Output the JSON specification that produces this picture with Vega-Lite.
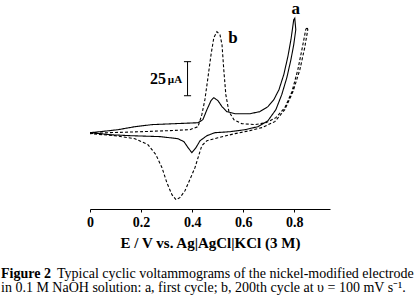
{
  "$schema": "https://vega.github.io/schema/vega-lite/v6.json",
  "autosize": {"type": "none"},
  "width": 240,
  "height": 199,
  "padding": {"left": 90, "top": 10, "right": 85, "bottom": 90},
  "background": "white",
  "config": {
    "view": {"stroke": null},
    "font": "Liberation Serif"
  },
  "title": {
    "text": "Figure 2",
    "subtitle": [
      "\u200b\u2003\u2003\u2003\u2003Typical cyclic voltammograms of the nickel-modified electrode",
      "in 0.1 M NaOH solution: a, first cycle; b, 200th cycle at \u03c5 = 100 mV s\u207b\u00b9."
    ],
    "orient": "bottom",
    "anchor": "start",
    "frame": "group",
    "dx": -89,
    "offset": 17,
    "font": "Liberation Serif",
    "fontSize": 14,
    "fontWeight": "bold",
    "color": "black",
    "subtitleFont": "Liberation Serif",
    "subtitleFontSize": 14,
    "subtitleColor": "black",
    "subtitleLineHeight": 14,
    "subtitlePadding": -14
  },
  "datasets": {
    "cv": [
      {"series": "a", "order": 0, "E": 0, "I": 0},
      {"series": "a", "order": 1, "E": 0.039, "I": 0.7},
      {"series": "a", "order": 2, "E": 0.110, "I": 2.2},
      {"series": "a", "order": 3, "E": 0.176, "I": 4.4},
      {"series": "a", "order": 4, "E": 0.243, "I": 5.9},
      {"series": "a", "order": 5, "E": 0.333, "I": 6.6},
      {"series": "a", "order": 6, "E": 0.423, "I": 7.3},
      {"series": "a", "order": 7, "E": 0.442, "I": 9.5},
      {"series": "a", "order": 8, "E": 0.458, "I": 16.9},
      {"series": "a", "order": 9, "E": 0.474, "I": 23.5},
      {"series": "a", "order": 10, "E": 0.485, "I": 25.7},
      {"series": "a", "order": 11, "E": 0.501, "I": 23.5},
      {"series": "a", "order": 12, "E": 0.517, "I": 19.1},
      {"series": "a", "order": 13, "E": 0.536, "I": 15.4},
      {"series": "a", "order": 14, "E": 0.568, "I": 13.9},
      {"series": "a", "order": 15, "E": 0.626, "I": 13.9},
      {"series": "a", "order": 16, "E": 0.665, "I": 15.4},
      {"series": "a", "order": 17, "E": 0.697, "I": 19.1},
      {"series": "a", "order": 18, "E": 0.720, "I": 24.2},
      {"series": "a", "order": 19, "E": 0.740, "I": 31.5},
      {"series": "a", "order": 20, "E": 0.759, "I": 42.6},
      {"series": "a", "order": 21, "E": 0.775, "I": 55.8},
      {"series": "a", "order": 22, "E": 0.787, "I": 68.2},
      {"series": "a", "order": 23, "E": 0.798, "I": 82.9},
      {"series": "a", "order": 24, "E": 0.802, "I": 84.0},
      {"series": "a", "order": 25, "E": 0.806, "I": 75.6},
      {"series": "a", "order": 26, "E": 0.798, "I": 64.6},
      {"series": "a", "order": 27, "E": 0.787, "I": 53.6},
      {"series": "a", "order": 28, "E": 0.771, "I": 40.4},
      {"series": "a", "order": 29, "E": 0.751, "I": 27.9},
      {"series": "a", "order": 30, "E": 0.728, "I": 16.9},
      {"series": "a", "order": 31, "E": 0.697, "I": 8.8},
      {"series": "a", "order": 32, "E": 0.658, "I": 4.4},
      {"series": "a", "order": 33, "E": 0.607, "I": 2.2},
      {"series": "a", "order": 34, "E": 0.548, "I": 0.7},
      {"series": "a", "order": 35, "E": 0.489, "I": 0},
      {"series": "a", "order": 36, "E": 0.458, "I": -2.2},
      {"series": "a", "order": 37, "E": 0.431, "I": -5.9},
      {"series": "a", "order": 38, "E": 0.415, "I": -11.0},
      {"series": "a", "order": 39, "E": 0.399, "I": -14.7},
      {"series": "a", "order": 40, "E": 0.384, "I": -11.0},
      {"series": "a", "order": 41, "E": 0.368, "I": -6.6},
      {"series": "a", "order": 42, "E": 0.344, "I": -4.4},
      {"series": "a", "order": 43, "E": 0.274, "I": -2.9},
      {"series": "a", "order": 44, "E": 0.157, "I": -2.2},
      {"series": "a", "order": 45, "E": 0.078, "I": -1.5},
      {"series": "a", "order": 46, "E": 0, "I": 0},
      {"series": "b", "order": 0, "E": 0, "I": -0.7},
      {"series": "b", "order": 1, "E": 0.078, "I": 0},
      {"series": "b", "order": 2, "E": 0.196, "I": 0.7},
      {"series": "b", "order": 3, "E": 0.313, "I": 1.5},
      {"series": "b", "order": 4, "E": 0.391, "I": 2.2},
      {"series": "b", "order": 5, "E": 0.423, "I": 4.4},
      {"series": "b", "order": 6, "E": 0.438, "I": 13.2},
      {"series": "b", "order": 7, "E": 0.450, "I": 24.2},
      {"series": "b", "order": 8, "E": 0.462, "I": 40.4},
      {"series": "b", "order": 9, "E": 0.474, "I": 57.2},
      {"series": "b", "order": 10, "E": 0.485, "I": 69.7},
      {"series": "b", "order": 11, "E": 0.497, "I": 74.1},
      {"series": "b", "order": 12, "E": 0.509, "I": 71.9},
      {"series": "b", "order": 13, "E": 0.517, "I": 64.6},
      {"series": "b", "order": 14, "E": 0.524, "I": 46.2},
      {"series": "b", "order": 15, "E": 0.532, "I": 27.9},
      {"series": "b", "order": 16, "E": 0.544, "I": 15.4},
      {"series": "b", "order": 17, "E": 0.564, "I": 9.5},
      {"series": "b", "order": 18, "E": 0.595, "I": 6.6},
      {"series": "b", "order": 19, "E": 0.646, "I": 5.9},
      {"series": "b", "order": 20, "E": 0.689, "I": 7.3},
      {"series": "b", "order": 21, "E": 0.728, "I": 11.0},
      {"series": "b", "order": 22, "E": 0.763, "I": 18.3},
      {"series": "b", "order": 23, "E": 0.791, "I": 30.1},
      {"series": "b", "order": 24, "E": 0.814, "I": 46.2},
      {"series": "b", "order": 25, "E": 0.830, "I": 60.9},
      {"series": "b", "order": 26, "E": 0.845, "I": 75.6},
      {"series": "b", "order": 27, "E": 0.850, "I": 77.5},
      {"series": "b", "order": 28, "E": 0.853, "I": 75.6},
      {"series": "b", "order": 29, "E": 0.841, "I": 62.4},
      {"series": "b", "order": 30, "E": 0.822, "I": 46.2},
      {"series": "b", "order": 31, "E": 0.795, "I": 30.1},
      {"series": "b", "order": 32, "E": 0.763, "I": 16.9},
      {"series": "b", "order": 33, "E": 0.724, "I": 8.1},
      {"series": "b", "order": 34, "E": 0.673, "I": 3.7},
      {"series": "b", "order": 35, "E": 0.626, "I": 1.5},
      {"series": "b", "order": 36, "E": 0.568, "I": -0.7},
      {"series": "b", "order": 37, "E": 0.501, "I": -3.7},
      {"series": "b", "order": 38, "E": 0.458, "I": -5.9},
      {"series": "b", "order": 39, "E": 0.438, "I": -9.5},
      {"series": "b", "order": 40, "E": 0.427, "I": -16.1},
      {"series": "b", "order": 41, "E": 0.411, "I": -25.7},
      {"series": "b", "order": 42, "E": 0.391, "I": -34.5},
      {"series": "b", "order": 43, "E": 0.372, "I": -42.6},
      {"series": "b", "order": 44, "E": 0.352, "I": -47.7},
      {"series": "b", "order": 45, "E": 0.337, "I": -49.2},
      {"series": "b", "order": 46, "E": 0.321, "I": -45.5},
      {"series": "b", "order": 47, "E": 0.301, "I": -36.7},
      {"series": "b", "order": 48, "E": 0.282, "I": -25.7},
      {"series": "b", "order": 49, "E": 0.258, "I": -16.1},
      {"series": "b", "order": 50, "E": 0.227, "I": -8.8},
      {"series": "b", "order": 51, "E": 0.176, "I": -4.4},
      {"series": "b", "order": 52, "E": 0.098, "I": -2.2},
      {"series": "b", "order": 53, "E": 0, "I": -0.7}
    ],
    "labels": [
      {"label": "a", "E": 0.806, "I": 90.5},
      {"label": "b", "E": 0.560, "I": 69.7}
    ],
    "bar": [
      {"E": 0.382, "I1": 27.1, "I2": 52.1}
    ],
    "caps": [
      {"E1": 0.368, "E2": 0.396, "I": 27.1},
      {"E1": 0.368, "E2": 0.396, "I": 52.1}
    ],
    "big": [{"t": "25", "E": 0.298, "I": 39.5}],
    "small": [{"t": "\u00b5A", "E": 0.361, "I": 39.0}]
  },
  "layer": [
    {
      "data": {"name": "cv"},
      "mark": {"type": "line", "strokeWidth": 1.1, "color": "black"},
      "encoding": {
        "x": {
          "field": "E", "type": "quantitative",
          "scale": {"domain": [0, 0.94], "nice": false, "zero": false},
          "axis": {
            "title": "E / V vs. Ag|AgCl|KCl (3 M)",
            "titleFont": "Liberation Serif",
            "titleFontSize": 15,
            "titleFontWeight": "bold",
            "titleColor": "black",
            "titlePadding": 6,
            "values": [0, 0.05, 0.1, 0.15, 0.2, 0.25, 0.3, 0.35, 0.4, 0.45, 0.5, 0.55, 0.6, 0.65, 0.7, 0.75, 0.8, 0.85, 0.9],
            "labelExpr": "round(datum.value*100) % 20 == 0 ? format(datum.value, '~g') : ''",
            "labelOverlap": false,
            "labelFlush": false,
            "labelFont": "Liberation Serif",
            "labelFontSize": 14,
            "labelFontWeight": "bold",
            "labelColor": "black",
            "labelPadding": 3,
            "tickSize": 3,
            "tickColor": "black",
            "domainColor": "black",
            "grid": false
          }
        },
        "y": {
          "field": "I", "type": "quantitative",
          "scale": {"domain": [-56, 90], "nice": false, "zero": false},
          "axis": null
        },
        "order": {"field": "order", "type": "quantitative"},
        "detail": {"field": "series"},
        "strokeDash": {
          "field": "series", "type": "nominal",
          "scale": {"domain": ["a", "b"], "range": [[1, 0], [3, 2]]},
          "legend": null
        }
      }
    },
    {
      "data": {"name": "labels"},
      "mark": {"type": "text", "font": "Liberation Serif", "fontSize": 17, "fontWeight": "bold", "color": "black", "baseline": "middle", "align": "center"},
      "encoding": {
        "x": {"field": "E", "type": "quantitative"},
        "y": {"field": "I", "type": "quantitative"},
        "text": {"field": "label"}
      }
    },
    {
      "data": {"name": "bar"},
      "mark": {"type": "rule", "color": "black", "strokeWidth": 1},
      "encoding": {
        "x": {"field": "E", "type": "quantitative"},
        "y": {"field": "I1", "type": "quantitative"},
        "y2": {"field": "I2"}
      }
    },
    {
      "data": {"name": "caps"},
      "mark": {"type": "rule", "color": "black", "strokeWidth": 1},
      "encoding": {
        "x": {"field": "E1", "type": "quantitative"},
        "x2": {"field": "E2"},
        "y": {"field": "I", "type": "quantitative"}
      }
    },
    {
      "data": {"name": "big"},
      "mark": {"type": "text", "font": "Liberation Serif", "fontSize": 16, "fontWeight": "bold", "color": "black", "baseline": "middle", "align": "right"},
      "encoding": {
        "x": {"field": "E", "type": "quantitative"},
        "y": {"field": "I", "type": "quantitative"},
        "text": {"field": "t"}
      }
    },
    {
      "data": {"name": "small"},
      "mark": {"type": "text", "font": "Liberation Serif", "fontSize": 11, "fontWeight": "bold", "color": "black", "baseline": "middle", "align": "right"},
      "encoding": {
        "x": {"field": "E", "type": "quantitative"},
        "y": {"field": "I", "type": "quantitative"},
        "text": {"field": "t"}
      }
    }
  ]
}
